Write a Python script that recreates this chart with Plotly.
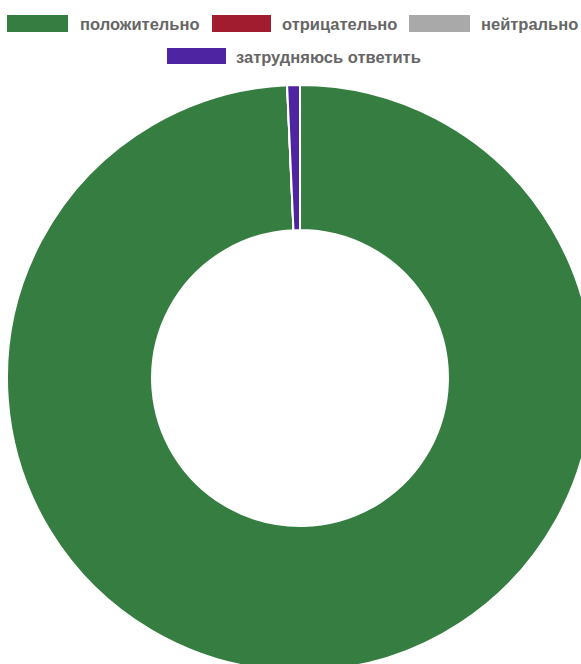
import plotly.graph_objects as go

labels = ["положительно", "отрицательно", "нейтрально", "затрудняюсь ответить"]
values = [99.3, 0, 0, 0.7]
colors = ["#367d42", "#a01c2e", "#a9a9a9", "#4f24a2"]

W, H = 600, 680
ML, MR, MT, MB = 7, 7, 85, 9
PW, PH = W - ML - MR, H - MT - MB


def px(x):
    return (x - ML) / PW


def py(y):
    return 1 - (y - MT) / PH


fig = go.Figure(
    go.Pie(
        labels=labels,
        values=values,
        hole=0.505,
        sort=False,
        direction="clockwise",
        rotation=0,
        textinfo="none",
        hoverinfo="label+value",
        marker=dict(colors=colors, line=dict(color="white", width=2)),
        showlegend=False,
    )
)

# legend layout (positions in page pixels)
legend_items = [
    (0, 7, 68, 15, 32, 78),
    (1, 212, 271, 15, 32, 280),
    (2, 409, 470, 15, 32, 479),
    (3, 167, 226, 48, 64, 234),
]
shapes = []
annotations = []
for idx, x0, x1, y0, y1, tx in legend_items:
    shapes.append(dict(
        type="rect", xref="paper", yref="paper",
        x0=px(x0), x1=px(x1), y0=py(y1), y1=py(y0),
        fillcolor=colors[idx], line=dict(width=0),
    ))
    annotations.append(dict(
        text=labels[idx], xref="paper", yref="paper",
        x=px(tx), y=py((y0 + y1) / 2 + 0.5), xanchor="left", yanchor="middle",
        showarrow=False,
        font=dict(family="Liberation Sans, Arial, sans-serif",
                  size=16.5, color="#666666", weight="bold"),
    ))

fig.update_layout(
    width=W, height=H,
    margin=dict(l=ML, r=MR, t=MT, b=MB, pad=0),
    paper_bgcolor="white", plot_bgcolor="white",
    shapes=shapes, annotations=annotations,
)

fig.write_html(
    "out.html",
    config={"displayModeBar": False},
    post_script="document.body.style.margin='0';document.body.style.overflow='hidden';document.documentElement.style.overflow='hidden';",
)
